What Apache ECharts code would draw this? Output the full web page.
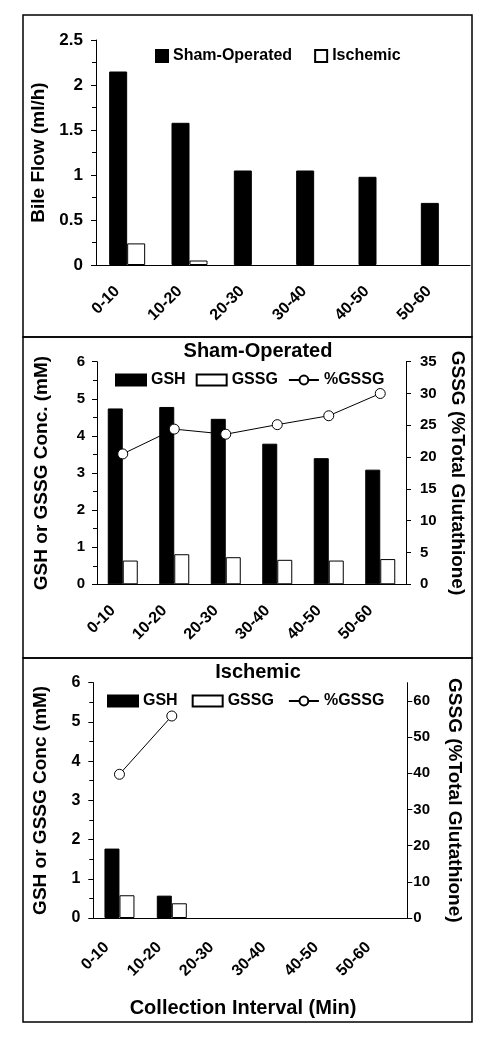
<!DOCTYPE html>
<html>
<head>
<meta charset="utf-8">
<script src="https://cdn.jsdelivr.net/npm/echarts@6/dist/echarts.min.js"></script>
<style>
html,body{margin:0;padding:0;background:#fff;}
#chart{width:494px;height:1045px;}
</style>
</head>
<body>
<div id="chart"></div>
<script>
// ---- data ----
const categories = ['0-10', '10-20', '20-30', '30-40', '40-50', '50-60'];
// Panel 1: bile flow (ml/h)
const bileSham = [2.15, 1.58, 1.05, 1.05, 0.98, 0.69];
const bileIschemic = [0.24, 0.05, null, null, null, null];
// Panel 2: sham-operated glutathione
const shamGSH = [4.74, 4.78, 4.46, 3.79, 3.40, 3.09];
const shamGSSG = [0.64, 0.81, 0.73, 0.66, 0.64, 0.68];
const shamPctGSSG = [20.5, 24.4, 23.6, 25.1, 26.5, 30.0];
// Panel 3: ischemic glutathione
const ischGSH = [1.77, 0.57, null, null, null, null];
const ischGSSG = [0.58, 0.375, null, null, null, null];
const ischPctGSSG = [39.7, 55.8, null, null, null, null];

const FONT = '"Liberation Sans", Arial, sans-serif';
const chart = echarts.init(document.getElementById('chart'), null, {renderer: 'canvas'});

function xAx(gridIndex, margin, pad) {
  return {
    type: 'category', gridIndex: gridIndex, data: categories,
    axisLine: {lineStyle: {color: '#000', width: 1}},
    axisTick: {show: false},
    axisLabel: {rotate: 45, margin: margin, padding: [0, pad, 0, 0], color: '#000', fontFamily: FONT, fontWeight: 'bold', fontSize: 16, interval: 0}
  };
}
function yAx(gridIndex, pos, max, interval, minor, name, gap, rot, fs, margin) {
  return {
    type: 'value', gridIndex: gridIndex, position: pos, min: 0, max: max, interval: interval,
    name: name, nameLocation: 'middle', nameGap: gap, nameRotate: rot,
    nameTextStyle: {color: '#000', fontFamily: FONT, fontWeight: 'bold', fontSize: 19},
    axisLine: {show: true, lineStyle: {color: '#000', width: 1}},
    axisTick: {show: true, length: 5, lineStyle: {color: '#000'}},
    minorTick: {show: minor, splitNumber: 2, length: 4, lineStyle: {color: '#000'}},
    splitLine: {show: false},
    axisLabel: {color: '#000', fontFamily: FONT, fontWeight: 'bold', fontSize: fs, margin: margin, showMaxLabel: max % interval === 0}
  };
}
const blackBar = {color: '#000', borderColor: '#000', borderWidth: 1};
const whiteBar = {color: '#fff', borderColor: '#000', borderWidth: 1};
const lineItem = {color: '#fff', borderColor: '#000', borderWidth: 1};
const legendText = {color: '#000', fontFamily: FONT, fontWeight: 'bold', fontSize: 16};
const titleText = {color: '#000', fontFamily: FONT, fontWeight: 'bold', fontSize: 20};

const option = {
  animation: false,
  backgroundColor: '#fff',
  graphic: [
    {type: 'rect', shape: {x: 23, y: 15, width: 449, height: 322}, style: {fill: null, stroke: '#000', lineWidth: 1.5}},
    {type: 'rect', shape: {x: 23, y: 337, width: 449, height: 321}, style: {fill: null, stroke: '#000', lineWidth: 1.5}},
    {type: 'rect', shape: {x: 23, y: 658, width: 449, height: 364}, style: {fill: null, stroke: '#000', lineWidth: 1.5}}
  ],
  title: [
    {text: 'Sham-Operated', left: 253, top: 336, textAlign: 'center', textStyle: titleText},
    {text: 'Ischemic', left: 253, top: 657, textAlign: 'center', textStyle: titleText},
    {text: 'Collection Interval (Min)', left: 238, top: 993, textAlign: 'center', textStyle: titleText}
  ],
  legend: [
    {left: 150, top: 43, itemWidth: 12, itemHeight: 12, itemGap: 22, textStyle: legendText,
     data: [{name: 'Sham-Operated', icon: 'rect'}, {name: 'Ischemic', icon: 'rect'}]},
    {left: 110, top: 367, itemWidth: 30, itemHeight: 11, itemGap: 10, textStyle: legendText,
     data: [{name: 'GSH', icon: 'rect'}, {name: 'GSSG', icon: 'rect'}, {name: '%GSSG'}]},
    {left: 102, top: 688, itemWidth: 30, itemHeight: 11, itemGap: 14, textStyle: legendText,
     data: [{name: 'GSH', icon: 'rect'}, {name: 'GSSG', icon: 'rect'}, {name: '%GSSG'}]}
  ],
  grid: [
    {left: 96, right: 24, top: 40, height: 225},
    {left: 97, right: 88, top: 361.7, height: 222.6},
    {left: 93.3, right: 86.7, top: 682.7, height: 235.3}
  ],
  xAxis: [xAx(0, 14, 14), xAx(1, 14, 14), xAx(2, 14, 18)],
  yAxis: [
    yAx(0, 'left', 2.5, 0.5, true, 'Bile Flow (ml/h)', 46, 90, 17, 13),
    yAx(1, 'left', 6, 1, true, 'GSH or GSSG Conc. (mM)', 46, 90, 15, 12),
    yAx(1, 'right', 35, 5, false, 'GSSG (%Total Glutathione)', 38, -90, 15, 14),
    yAx(2, 'left', 6, 1, true, 'GSH or GSSG Conc (mM)', 43, 90, 16, 13),
    yAx(2, 'right', 65, 10, false, 'GSSG (%Total Glutathione)', 37, -90, 15, 6)
  ],
  series: [
    {name: 'Sham-Operated', type: 'bar', xAxisIndex: 0, yAxisIndex: 0, data: bileSham, barWidth: 18, barGap: '0%', itemStyle: blackBar},
    {name: 'Ischemic', type: 'bar', xAxisIndex: 0, yAxisIndex: 0, data: bileIschemic, barWidth: 18, barGap: '0%', itemStyle: whiteBar},

    {name: 'GSH', type: 'bar', xAxisIndex: 1, yAxisIndex: 1, data: shamGSH, barWidth: 15, barGap: '0%', itemStyle: blackBar},
    {name: 'GSSG', type: 'bar', xAxisIndex: 1, yAxisIndex: 1, data: shamGSSG, barWidth: 15, barGap: '0%', itemStyle: whiteBar},
    {name: '%GSSG', type: 'line', xAxisIndex: 1, yAxisIndex: 2, data: shamPctGSSG, symbol: 'circle', symbolSize: 10, z: 5,
     itemStyle: lineItem, lineStyle: {color: '#000', width: 1}},

    {name: 'GSH', type: 'bar', xAxisIndex: 2, yAxisIndex: 3, data: ischGSH, barWidth: 15, barGap: '0%', itemStyle: blackBar},
    {name: 'GSSG', type: 'bar', xAxisIndex: 2, yAxisIndex: 3, data: ischGSSG, barWidth: 15, barGap: '0%', itemStyle: whiteBar},
    {name: '%GSSG', type: 'line', xAxisIndex: 2, yAxisIndex: 4, data: ischPctGSSG, symbol: 'circle', symbolSize: 10, z: 5,
     itemStyle: lineItem, lineStyle: {color: '#000', width: 1}}
  ]
};
chart.setOption(option);
</script>
</body>
</html>
